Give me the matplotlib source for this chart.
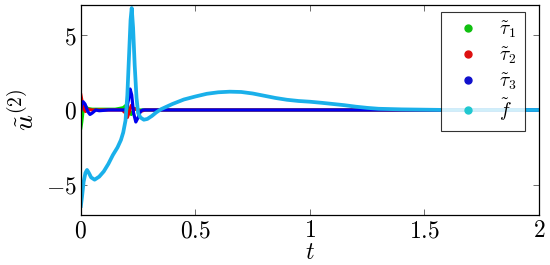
import matplotlib
matplotlib.use("Agg")
import matplotlib.pyplot as plt
from matplotlib.lines import Line2D

plt.rcParams['mathtext.fontset'] = 'cm'
plt.rcParams['font.family'] = 'DejaVu Serif'

# tau_1 (green)
t_tau1 = [0, 0.004, 0.01, 0.018, 0.03, 0.05, 0.15, 0.185, 0.2, 0.21, 0.22, 0.235, 0.25, 2.0]
y_tau1 = [-1.2, -0.8, 0.0, 0.3, 0.1, 0.05, 0.05, 0.15, 0.35, 0.0, -0.3, 0.1, 0.0, 0.0]

# tau_2 (red)
t_tau2 = [0, 0.005, 0.012, 0.02, 0.03, 0.05, 0.18, 0.195, 0.203, 0.21, 0.22, 0.23, 0.25, 0.26, 0.28, 2.0]
y_tau2 = [1.0, 0.6, 0.1, -0.1, 0.05, 0.0, 0.0, -0.2, -0.5, -0.2, 0.3, 0.1, 0.0, -0.1, 0.0, 0.0]

# tau_3 (blue)
t_tau3 = [0, 0.004, 0.01, 0.018, 0.03, 0.04, 0.05, 0.065, 0.08, 0.12, 0.19, 0.2, 0.208, 0.215,
          0.222, 0.23, 0.24, 0.25, 0.26, 0.27, 2.0]
y_tau3 = [0.0, 0.4, 0.55, 0.4, -0.1, -0.3, -0.2, 0.0, -0.05, 0.0, 0.0, 0.1, 0.7, 1.4,
          1.0, -0.2, -0.8, -0.5, -0.1, 0.0, 0.0]

# f (light blue)
t_f = [0, 0.005, 0.012, 0.02, 0.027, 0.035, 0.045, 0.06, 0.08, 0.10, 0.12, 0.14, 0.16, 0.175,
       0.185, 0.195, 0.203, 0.21, 0.217, 0.222, 0.228, 0.235, 0.243, 0.25, 0.26, 0.275, 0.29,
       0.31, 0.33, 0.35, 0.4, 0.45, 0.5, 0.55, 0.6, 0.65, 0.7, 0.75, 0.8, 0.85, 0.9, 0.95,
       1.0, 1.05, 1.1, 1.15, 1.2, 1.25, 1.3, 1.4, 1.5, 1.6, 2.0]
y_f = [-6.4, -5.8, -4.8, -4.2, -4.0, -4.2, -4.5, -4.65, -4.45, -4.1, -3.6, -3.0, -2.5, -2.0,
       -1.5, -0.7, 1.0, 3.5, 6.0, 6.8, 5.5, 3.0, 0.8, -0.2, -0.5, -0.65, -0.6,
       -0.4, -0.15, 0.05, 0.4, 0.7, 0.9, 1.08, 1.18, 1.22, 1.2, 1.1, 0.95, 0.8, 0.68, 0.6,
       0.55, 0.48, 0.4, 0.32, 0.22, 0.14, 0.08, 0.04, 0.02, 0.0, 0.0]

labels = [r'$\tilde{\tau}_1$', r'$\tilde{\tau}_2$', r'$\tilde{\tau}_3$', r'$\tilde{f}$']
xticks = [0, 0.5, 1, 1.5, 2]
yticks = [-5, 0, 5]

fig = plt.figure(figsize=(5.5, 2.65), dpi=100)
ax = fig.add_axes([0.147, 0.189, 0.833, 0.792])

lw = 2.3
ax.plot(t_tau1, y_tau1, color='#00dd00', lw=lw)
ax.plot(t_tau2, y_tau2, color='#ee0000', lw=lw)
ax.plot(t_tau3, y_tau3, color='#0000ee', lw=lw)
ax.plot(t_f, y_f, color='#1ab0ea', lw=lw + 0.4)

ax.set_xlim(0, 2)
ax.set_ylim(-7, 7)
ax.set_xticks(xticks)
ax.set_xticklabels([f'${v}$' for v in xticks])
ax.set_yticks(yticks)
ax.set_yticklabels([f'${v}$' for v in yticks])
ax.tick_params(direction='in', top=True, right=True, labelsize=17, length=4, width=0.6,
               color='#555555', pad=3)
for s in ax.spines.values():
    s.set_linewidth(0.9)

ax.set_xlabel(r'$t$', fontsize=17)
ax.xaxis.set_label_coords(0.5, -0.125)
ax.set_ylabel(r'$\tilde{u}^{(2)}$', fontsize=20, labelpad=4)

handles = [Line2D([], [], ls='none', marker='o', ms=5, color=c, mec=c)
           for c in ['#10c010', '#dd1010', '#1010cc', '#20c8d0']]
leg = ax.legend(handles, labels, loc='upper right', bbox_to_anchor=(0.969, 0.967),
                fontsize=14, frameon=True, fancybox=False, edgecolor='black',
                handlelength=2.0, handletextpad=0.6, labelspacing=0.25, borderpad=0.4,
                borderaxespad=0.0)
leg.get_frame().set_linewidth(0.8)

fig.savefig('out.png', dpi=100)
